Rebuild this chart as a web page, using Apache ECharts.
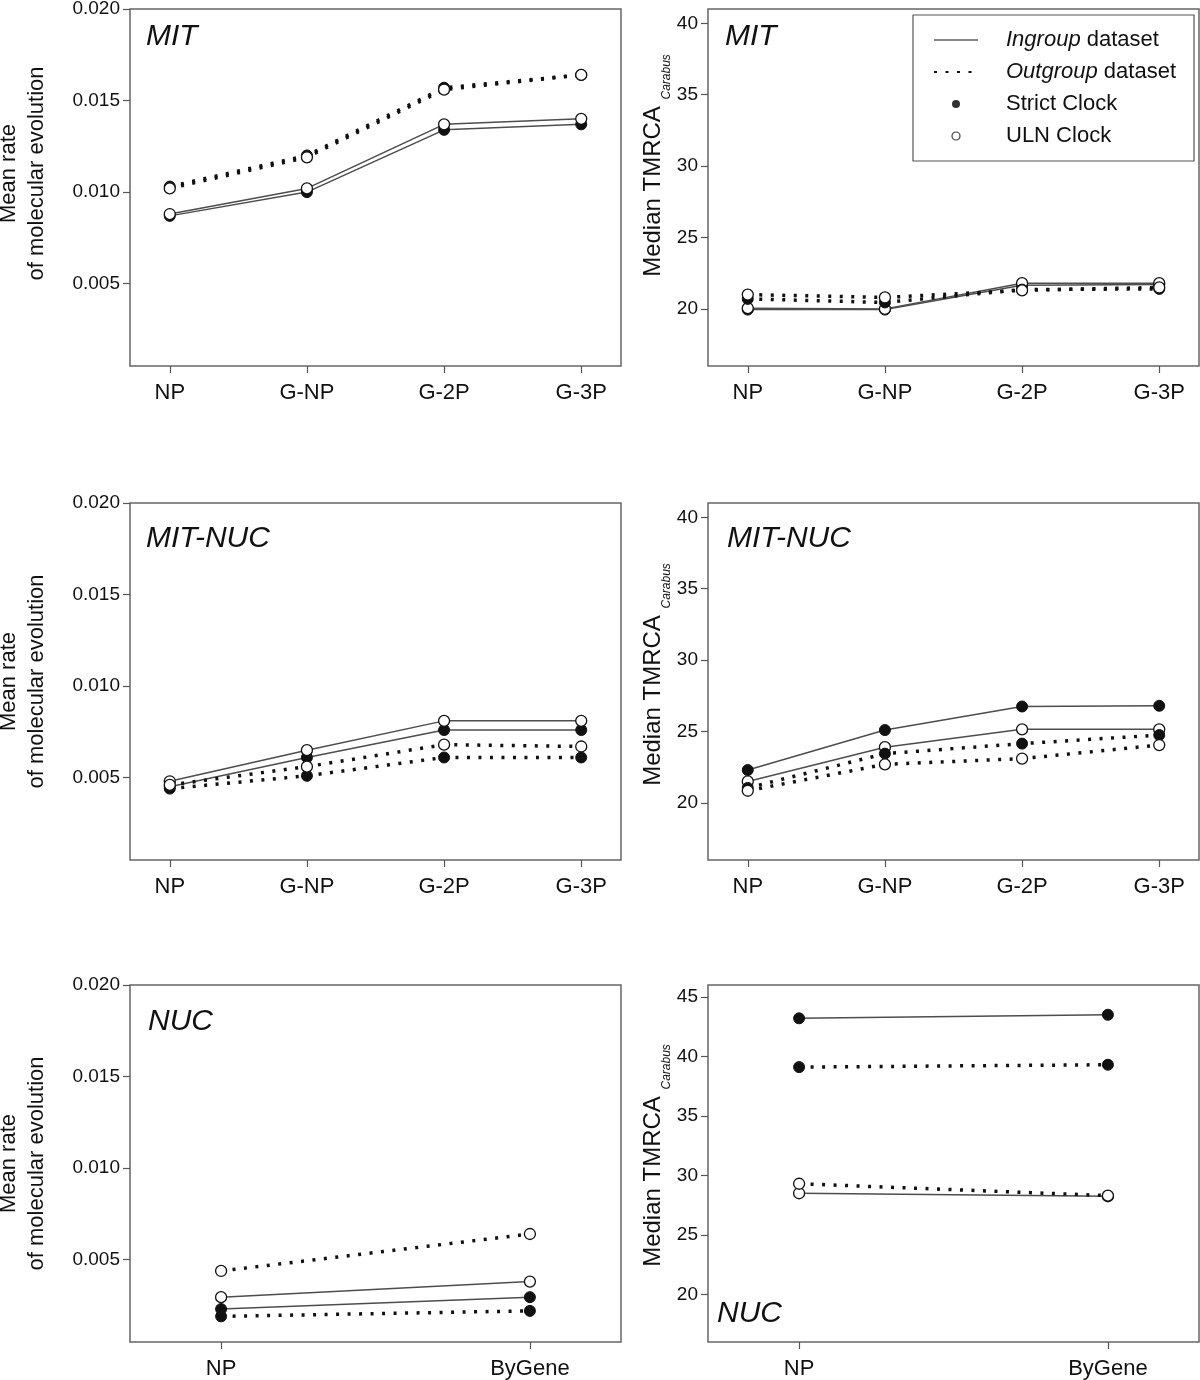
<!DOCTYPE html>
<html>
<head>
<meta charset="utf-8">
<title>Rates and TMRCA</title>
<script src="https://cdn.jsdelivr.net/npm/echarts@6/dist/echarts.min.js"></script>
<style>
  html, body { margin: 0; background: #fff; }
  #chart { width: 1200px; height: 1380px; }
</style>
</head>
<body>
<div id="chart"></div>
<script>
var FONT = '"Liberation Sans", Arial, Helvetica, sans-serif';

// categories and ticks
var geneCats = ['NP', 'G-NP', 'G-2P', 'G-3P'];
var nucCats = ['NP', 'ByGene'];
var rateTicks = [0.005, 0.010, 0.015, 0.020];
var ageTicks = [20, 25, 30, 35, 40];
var ageTicksNuc = [20, 25, 30, 35, 40, 45];

// MIT - mean rate
var mitRateInStrict  = [0.0087, 0.0100, 0.0134, 0.0137];
var mitRateInULN     = [0.0088, 0.0102, 0.0137, 0.0140];
var mitRateOutStrict = [0.0103, 0.0120, 0.0157, 0.0164];
var mitRateOutULN    = [0.0102, 0.0119, 0.0156, 0.0164];

// MIT - median TMRCA
var mitAgeInStrict  = [19.95, 19.95, 21.65, 21.7];
var mitAgeInULN     = [20.05, 20.0, 21.8, 21.8];
var mitAgeOutStrict = [20.7, 20.45, 21.35, 21.4];
var mitAgeOutULN    = [21.0, 20.8, 21.3, 21.5];

// MIT-NUC - mean rate
var mnRateInStrict  = [0.0045, 0.0061, 0.0076, 0.0076];
var mnRateInULN     = [0.0048, 0.0065, 0.0081, 0.0081];
var mnRateOutStrict = [0.0044, 0.0051, 0.0061, 0.0061];
var mnRateOutULN    = [0.0046, 0.0056, 0.0068, 0.0067];

// MIT-NUC - median TMRCA
var mnAgeInStrict  = [22.3, 25.1, 26.75, 26.8];
var mnAgeInULN     = [21.5, 23.9, 25.15, 25.15];
var mnAgeOutStrict = [21.05, 23.45, 24.15, 24.75];
var mnAgeOutULN    = [20.85, 22.7, 23.1, 24.05];

// NUC - mean rate
var nucRateInStrict  = [0.0023, 0.00295];
var nucRateInULN     = [0.00295, 0.0038];
var nucRateOutStrict = [0.0019, 0.0022];
var nucRateOutULN    = [0.00438, 0.0064];

// NUC - median TMRCA
var nucAgeInStrict  = [43.2, 43.5];
var nucAgeInULN     = [28.5, 28.25];
var nucAgeOutStrict = [39.1, 39.3];
var nucAgeOutULN    = [29.3, 28.3];

var panelNames = ['MIT', 'MIT', 'MIT-NUC', 'MIT-NUC', 'NUC', 'NUC'];

var myChart = echarts.init(document.getElementById('chart'));

var colLeft = [130, 708];
var rowTop = [9, 503, 985];
var gridW = 491, gridH = 357;

function pts(arr) {
  return arr.map(function (v, i) { return [i, v]; });
}

var inLine = { color: '#4d4d4d', width: 1.5, type: 'solid' };
var outLine = { color: '#111', width: 3.5, type: [3, 8.5], cap: 'butt' };
var filled = { color: '#111', borderColor: '#111', borderWidth: 1 };
var open = { color: '#fff', borderColor: '#111', borderWidth: 1.3 };
var hidden = { color: 'rgba(0,0,0,0)', opacity: 0 };

var grids = [], xAxes = [], yAxes = [], series = [], titles = [];

function addGrid(r, c) {
  grids.push({
    left: colLeft[c], top: rowTop[r], width: gridW, height: gridH,
    show: true, borderColor: '#666', borderWidth: 1.5,
    backgroundColor: 'transparent', containLabel: false, outerBoundsMode: 'none'
  });
}

function addX(idx, cats) {
  var pad = cats.length === 4 ? 0.29 : 0.295;
  var vals = cats.map(function (c, i) { return i; });
  xAxes.push({
    type: 'value', gridIndex: idx, min: -pad, max: cats.length - 1 + pad, position: 'bottom',
    axisLine: { show: false, onZero: false }, splitLine: { show: false },
    axisTick: { show: true, customValues: vals, length: 7, lineStyle: { color: '#555', width: 1.2 } },
    axisLabel: {
      customValues: vals, margin: 16, fontSize: 22, color: '#111', fontFamily: FONT,
      formatter: function (v) { return cats[Math.round(v)]; }
    }
  });
}

function addRateY(idx, shift) {
  yAxes.push({
    type: 'value', gridIndex: idx, min: 0.0005, max: 0.020, position: 'left',
    axisLine: { show: false, onZero: false }, splitLine: { show: false },
    axisTick: { show: true, customValues: rateTicks, length: 7, lineStyle: { color: '#555', width: 1.2 } },
    axisLabel: {
      customValues: rateTicks, margin: 10, fontSize: 19, color: '#111', fontFamily: FONT,
      formatter: function (v) { return v.toFixed(3); }
    },
    name: 'Mean rate\nof molecular evolution',
    nameLocation: 'middle', nameRotate: 90, nameGap: 79,
    nameTextStyle: { fontSize: 22, lineHeight: 28, color: '#111', fontFamily: FONT, padding: [0, 0, 0, shift * 2] }
  });
}

function addAgeY(idx, max, ticks, shift) {
  yAxes.push({
    type: 'value', gridIndex: idx, min: 16, max: max, position: 'left',
    axisLine: { show: false, onZero: false }, splitLine: { show: false },
    axisTick: { show: true, customValues: ticks, length: 7, lineStyle: { color: '#555', width: 1.2 } },
    axisLabel: { customValues: ticks, margin: 10, fontSize: 19, color: '#111', fontFamily: FONT },
    name: '{m|Median TMRCA }{s|Carabus}',
    nameLocation: 'middle', nameRotate: 90, nameGap: 36,
    nameTextStyle: {
      padding: [0, 0, 0, shift * 2],
      rich: {
        m: { fontSize: 24, lineHeight: 30, verticalAlign: 'middle', color: '#111', fontFamily: FONT },
        s: { fontSize: 12, lineHeight: 12, fontStyle: 'italic', padding: [28, 0, 0, 0], color: '#111', fontFamily: FONT }
      }
    }
  });
}

function addPanelSeries(idx, inStrict, inULN, outStrict, outULN) {
  var sets = [
    [inStrict, inLine, filled],
    [inULN, inLine, open],
    [outStrict, outLine, filled],
    [outULN, outLine, open]
  ];
  sets.forEach(function (s) {
    series.push({
      type: 'line', xAxisIndex: idx, yAxisIndex: idx,
      data: pts(s[0]), lineStyle: s[1], itemStyle: s[2],
      symbol: 'circle', symbolSize: 11, showSymbol: true, silent: true
    });
  });
}

for (var r = 0; r < 3; r++) {
  for (var c = 0; c < 2; c++) {
    addGrid(r, c);
    addX(r * 2 + c, r === 2 ? nucCats : geneCats);
  }
}

addRateY(0, 14);
addAgeY(1, 41, ageTicks, 22);
addRateY(2, 0);
addAgeY(3, 41, ageTicks, 7);
addRateY(4, 0);
addAgeY(5, 46, ageTicksNuc, 8);

addPanelSeries(0, mitRateInStrict, mitRateInULN, mitRateOutStrict, mitRateOutULN);
addPanelSeries(1, mitAgeInStrict, mitAgeInULN, mitAgeOutStrict, mitAgeOutULN);
addPanelSeries(2, mnRateInStrict, mnRateInULN, mnRateOutStrict, mnRateOutULN);
addPanelSeries(3, mnAgeInStrict, mnAgeInULN, mnAgeOutStrict, mnAgeOutULN);
addPanelSeries(4, nucRateInStrict, nucRateInULN, nucRateOutStrict, nucRateOutULN);
addPanelSeries(5, nucAgeInStrict, nucAgeInULN, nucAgeOutStrict, nucAgeOutULN);

// legend-only series (no data)
series.push(
  { name: 'Ingroup dataset', type: 'line', xAxisIndex: 1, yAxisIndex: 1, data: [], symbol: 'none',
    itemStyle: hidden, lineStyle: { color: '#888', width: 2 } },
  { name: 'Outgroup dataset', type: 'line', xAxisIndex: 1, yAxisIndex: 1, data: [], symbol: 'none',
    itemStyle: hidden, lineStyle: { color: '#111', width: 3.5, type: [3, 8.5] } },
  { name: 'Strict Clock', type: 'scatter', xAxisIndex: 1, yAxisIndex: 1, data: [], symbol: 'circle',
    itemStyle: { color: '#000' } },
  { name: 'ULN Clock', type: 'scatter', xAxisIndex: 1, yAxisIndex: 1, data: [], symbol: 'circle',
    itemStyle: open }
);

// panel labels
var labelPos = [[146, 21.5], [725, 21.5], [146, 523.5], [727, 523.5], [148, 1007], [717, 1298.5]];
panelNames.forEach(function (n, i) {
  titles.push({
    text: n, left: labelPos[i][0], top: labelPos[i][1], padding: 0,
    textStyle: { fontSize: 30, fontStyle: 'italic', fontWeight: 'normal', color: '#111', fontFamily: FONT }
  });
});

var option = {
  backgroundColor: '#fff',
  animation: false,
  title: titles,
  legend: {
    show: true, orient: 'vertical', left: 913, top: 15,
    padding: [14, 18, 14, 20], itemWidth: 44, itemHeight: 8, itemGap: 10,
    borderColor: '#555', borderWidth: 1.2, backgroundColor: '#fff', selectedMode: false,
    data: [
      { name: 'Ingroup dataset', itemStyle: { opacity: 0 } },
      { name: 'Outgroup dataset', itemStyle: { opacity: 0 } },
      { name: 'Strict Clock', itemStyle: { color: '#000', borderColor: '#000', borderWidth: 0 } },
      { name: 'ULN Clock', itemStyle: { color: '#fff', borderColor: '#111', borderWidth: 1.2 } }
    ],
    formatter: function (name) {
      if (name === 'Ingroup dataset') return '{it|Ingroup} dataset';
      if (name === 'Outgroup dataset') return '{it|Outgroup} dataset';
      return name;
    },
    textStyle: {
      fontSize: 22, lineHeight: 22, color: '#111', fontFamily: FONT, padding: [0, 0, 0, 23],
      rich: { it: { fontStyle: 'italic', fontSize: 22, color: '#111', fontFamily: FONT } }
    }
  },
  grid: grids,
  xAxis: xAxes,
  yAxis: yAxes,
  series: series
};

myChart.setOption(option);
</script>
</body>
</html>
